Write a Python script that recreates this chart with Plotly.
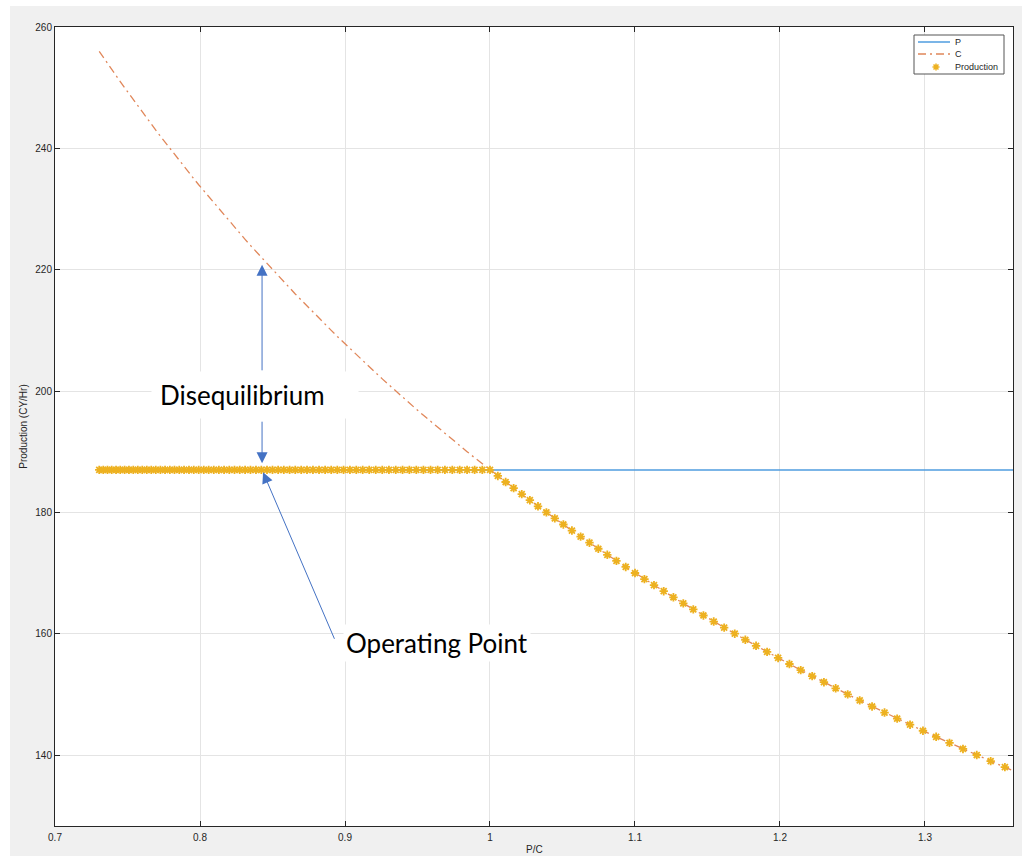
import plotly.graph_objects as go

# ---------------- data ----------------
pc_ratio = [
    0.7305, 0.7333, 0.7362, 0.7391, 0.7421, 0.7450, 0.7480, 0.7510, 0.7540, 0.7571,
    0.7602, 0.7633, 0.7664, 0.7695, 0.7727, 0.7759, 0.7792, 0.7824, 0.7857, 0.7890,
    0.7924, 0.7957, 0.7991, 0.8026, 0.8060, 0.8095, 0.8130, 0.8166, 0.8202, 0.8238,
    0.8274, 0.8311, 0.8348, 0.8386, 0.8423, 0.8462, 0.8500, 0.8539, 0.8578, 0.8618,
    0.8657, 0.8698, 0.8738, 0.8779, 0.8821, 0.8863, 0.8905, 0.8947, 0.8990, 0.9034,
    0.9078, 0.9122, 0.9167, 0.9212, 0.9257, 0.9303, 0.9350, 0.9397, 0.9444, 0.9492,
    0.9541, 0.9590, 0.9639, 0.9689, 0.9740, 0.9791, 0.9842, 0.9894, 0.9947, 1.0000,
    1.0054, 1.0108, 1.0163, 1.0219, 1.0275, 1.0331, 1.0389, 1.0447, 1.0506, 1.0565,
    1.0625, 1.0686, 1.0747, 1.0809, 1.0872, 1.0936, 1.1000, 1.1065, 1.1131, 1.1198,
    1.1265, 1.1333, 1.1402, 1.1472, 1.1543, 1.1615, 1.1688, 1.1761, 1.1835, 1.1911,
    1.1987, 1.2065, 1.2143, 1.2222, 1.2303, 1.2384, 1.2467, 1.2550, 1.2635, 1.2721,
    1.2808, 1.2897, 1.2986, 1.3077, 1.3169, 1.3262, 1.3357, 1.3453, 1.3551,
]
c_values = [
    256, 255, 254, 253, 252, 251, 250, 249, 248, 247,
    246, 245, 244, 243, 242, 241, 240, 239, 238, 237,
    236, 235, 234, 233, 232, 231, 230, 229, 228, 227,
    226, 225, 224, 223, 222, 221, 220, 219, 218, 217,
    216, 215, 214, 213, 212, 211, 210, 209, 208, 207,
    206, 205, 204, 203, 202, 201, 200, 199, 198, 197,
    196, 195, 194, 193, 192, 191, 190, 189, 188, 187,
    186, 185, 184, 183, 182, 181, 180, 179, 178, 177,
    176, 175, 174, 173, 172, 171, 170, 169, 168, 167,
    166, 165, 164, 163, 162, 161, 160, 159, 158, 157,
    156, 155, 154, 153, 152, 151, 150, 149, 148, 147,
    146, 145, 144, 143, 142, 141, 140, 139, 138,
]
production = [
    187, 187, 187, 187, 187, 187, 187, 187, 187, 187,
    187, 187, 187, 187, 187, 187, 187, 187, 187, 187,
    187, 187, 187, 187, 187, 187, 187, 187, 187, 187,
    187, 187, 187, 187, 187, 187, 187, 187, 187, 187,
    187, 187, 187, 187, 187, 187, 187, 187, 187, 187,
    187, 187, 187, 187, 187, 187, 187, 187, 187, 187,
    187, 187, 187, 187, 187, 187, 187, 187, 187, 187,
    186, 185, 184, 183, 182, 181, 180, 179, 178, 177,
    176, 175, 174, 173, 172, 171, 170, 169, 168, 167,
    166, 165, 164, 163, 162, 161, 160, 159, 158, 157,
    156, 155, 154, 153, 152, 151, 150, 149, 148, 147,
    146, 145, 144, 143, 142, 141, 140, 139, 138,
]
# lines continue past the last marker to the axis edge
c_line_ratio = pc_ratio + [1.37]
c_line_values = c_values + [136.5]
p_line_ratio = [0.7305, 1.37]
p_line_values = [187, 187]

x_ticks = [0.7, 0.8, 0.9, 1.0, 1.1, 1.2, 1.3]
x_tick_text = ["0.7", "0.8", "0.9", "1", "1.1", "1.2", "1.3"]
y_ticks = [140, 160, 180, 200, 220, 240, 260]
y_tick_text = ["140", "160", "180", "200", "220", "240", "260"]

# ---------------- styles ----------------
BLUE = "#4f9ddf"
ORANGE = "#e0875a"
YELLOW = "#EDB120"
AX = "#262626"
GRID = "#e4e4e4"
ARROW = "#4472C4"
W, H = 1022, 856
ML, MR, MT, MB = 55, 9, 27, 30
PW, PH = W - ML - MR, H - MT - MB


def px(xp):
    return (xp - ML) / PW


def py(yp):
    return (H - MB - yp) / PH


fig = go.Figure()
fig.add_trace(go.Scatter(x=p_line_ratio, y=p_line_values, mode="lines", name="P",
                         line=dict(color=BLUE, width=1.5), showlegend=False))
fig.add_trace(go.Scatter(x=c_line_ratio, y=c_line_values, mode="lines", name="C",
                         line=dict(color=ORANGE, width=1.3, dash="8px,4px,2px,4px"),
                         showlegend=False))
fig.add_trace(go.Scatter(x=pc_ratio, y=production, mode="markers", name="Production",
                         marker=dict(symbol="asterisk-open", size=7, color=YELLOW,
                                     line=dict(color=YELLOW, width=1.8)),
                         showlegend=False))

axis_common = dict(
    ticks="inside", ticklen=5, tickcolor=AX, tickwidth=1,
    showline=True, linecolor=AX, linewidth=1, mirror="ticks",
    showgrid=True, gridcolor=GRID, gridwidth=1, zeroline=False, automargin=False,
    tickfont=dict(family="Liberation Sans, Arial", size=10, color=AX),
)
fig.update_xaxes(range=[0.7, 1.3607], tickvals=x_ticks, ticktext=x_tick_text,
                 ticklabelstandoff=2, **axis_common)
fig.update_yaxes(range=[128.3, 260], tickvals=y_ticks, ticktext=y_tick_text,
                 title=dict(text="Production (CY/Hr)", standoff=5,
                            font=dict(family="Liberation Sans, Arial", size=10, color=AX)),
                 **axis_common)

shapes = [
    # white page strips around the grey figure area
    dict(type="rect", xref="paper", yref="paper", x0=px(-5), x1=px(W + 5), y0=py(6), y1=py(-5),
         fillcolor="white", line=dict(width=0), layer="below"),
    dict(type="rect", xref="paper", yref="paper", x0=px(-5), x1=px(10), y0=py(H + 5), y1=py(-5),
         fillcolor="white", line=dict(width=0), layer="below"),
    # custom legend
    dict(type="rect", xref="paper", yref="paper", x0=px(914), x1=px(1004), y0=py(74), y1=py(35),
         fillcolor="white", line=dict(color="#555555", width=1), layer="above"),
    dict(type="line", xref="paper", yref="paper", x0=px(918), x1=px(950), y0=py(42), y1=py(42),
         line=dict(color=BLUE, width=1.5), layer="above"),
    dict(type="line", xref="paper", yref="paper", x0=px(918), x1=px(950), y0=py(54), y1=py(54),
         line=dict(color=ORANGE, width=1.3, dash="8px,4px,2px,4px"), layer="above"),
]
cx, cy, r = 936, 67, 3.5
d = r * 0.707
star_path = (
    f"M {px(cx - r)} {py(cy)} L {px(cx + r)} {py(cy)} "
    f"M {px(cx)} {py(cy - r)} L {px(cx)} {py(cy + r)} "
    f"M {px(cx - d)} {py(cy - d)} L {px(cx + d)} {py(cy + d)} "
    f"M {px(cx - d)} {py(cy + d)} L {px(cx + d)} {py(cy - d)}"
)
shapes.append(dict(type="path", xref="paper", yref="paper", path=star_path,
                   line=dict(color=YELLOW, width=1.5), layer="above"))

leg_font = dict(family="Liberation Sans, Arial", size=9, color=AX)
annotations = [
    dict(xref="paper", yref="paper", x=px(953), y=py(42), text="P", showarrow=False,
         xanchor="left", yanchor="middle", font=leg_font),
    dict(xref="paper", yref="paper", x=px(953), y=py(54), text="C", showarrow=False,
         xanchor="left", yanchor="middle", font=leg_font),
    dict(xref="paper", yref="paper", x=px(953), y=py(67), text="Production", showarrow=False,
         xanchor="left", yanchor="middle", font=leg_font),
    # x-axis title
    dict(xref="paper", yref="paper", x=0.5, y=py(849), text="P/C", showarrow=False,
         xanchor="center", yanchor="middle",
         font=dict(family="Liberation Sans, Arial", size=10, color=AX)),
    # arrows
    dict(x=0.8428, y=220.8, xref="x", yref="y", text="", showarrow=True,
         ax=0, ay=107, arrowhead=2, arrowsize=2.2, arrowwidth=1, arrowcolor=ARROW, standoff=0),
    dict(x=0.8428, y=188.1, xref="x", yref="y", text="", showarrow=True,
         ax=0, ay=-43, arrowhead=2, arrowsize=2.2, arrowwidth=1, arrowcolor=ARROW, standoff=0),
    dict(x=0.8435, y=186.6, xref="x", yref="y", text="", showarrow=True,
         ax=72, ay=168, arrowhead=2, arrowsize=2.2, arrowwidth=1, arrowcolor=ARROW, standoff=0),
    # labels
    dict(x=0.8379, y=199.3, xref="x", yref="y", text="Disequilibrium", showarrow=False,
         xanchor="center", yanchor="middle", bgcolor="white", borderpad=8,
         width=190, height=30, align="left",
         font=dict(family="Lato", size=26, color="black")),
    dict(x=0.9635, y=158.4, xref="x", yref="y", text="Operating Point", showarrow=False,
         xanchor="center", yanchor="middle", bgcolor="white", borderpad=2,
         font=dict(family="Lato", size=26, color="black")),
]

fig.update_layout(
    width=W, height=H,
    margin=dict(l=ML, r=MR, t=MT, b=MB, pad=0),
    paper_bgcolor="#f0f0f0", plot_bgcolor="white",
    showlegend=False, shapes=shapes, annotations=annotations,
)

fig.write_html("out.html", config={"displayModeBar": False},
               post_script="document.body.style.margin='0';document.body.style.overflow='hidden';")
